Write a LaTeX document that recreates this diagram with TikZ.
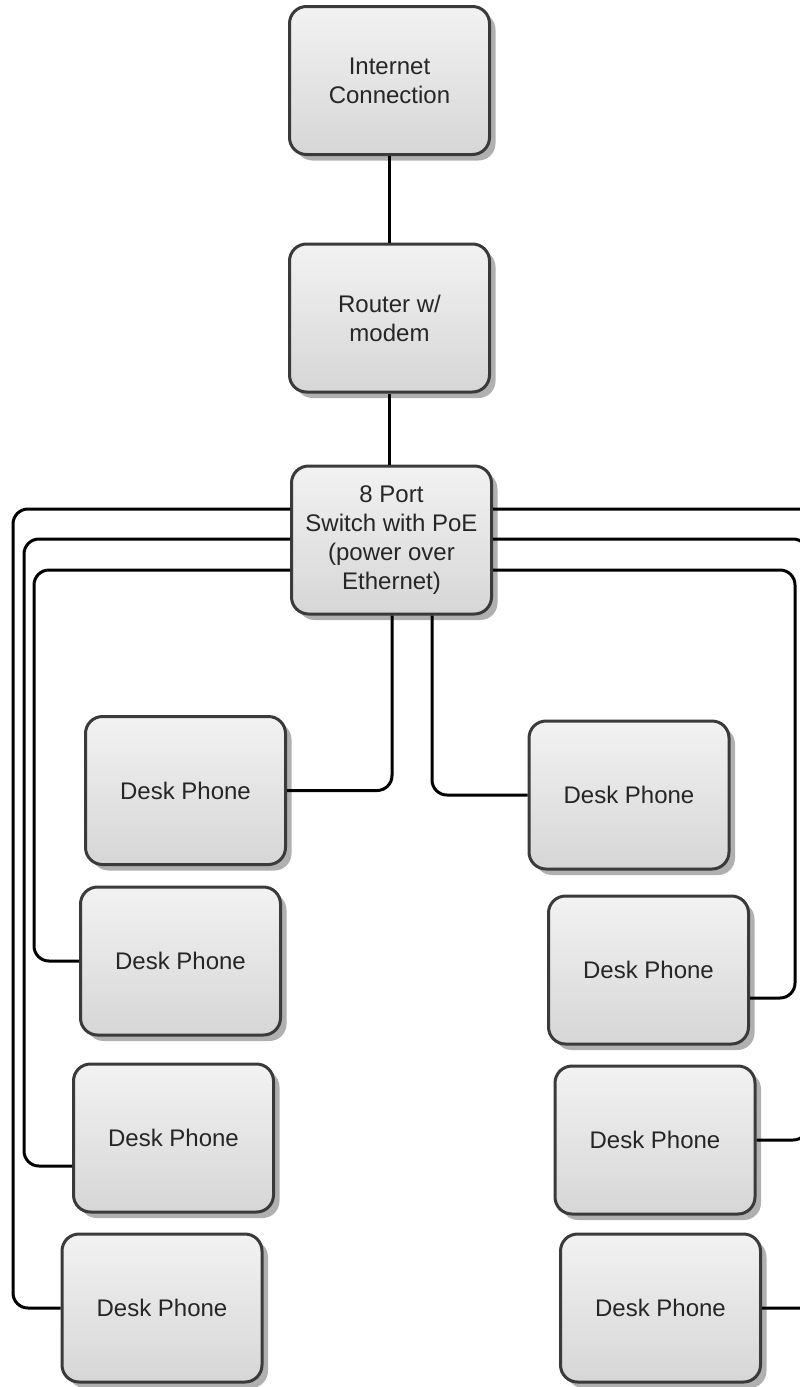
\documentclass[tikz,border=0pt]{standalone}
\usepackage{fontspec}
\setmainfont{Liberation Sans}
\usetikzlibrary{shadows}
\definecolor{boxtop}{HTML}{F2F2F2}
\definecolor{boxbot}{HTML}{D6D6D6}
\definecolor{boxline}{HTML}{3A3A3A}
\definecolor{shade}{HTML}{B0B0B0}
\tikzset{
  dev/.style={rectangle, rounded corners=17pt, draw=boxline, line width=3pt,
    top color=boxtop, bottom color=boxbot, minimum width=200pt, minimum height=148pt,
    align=center, font=\fontsize{24}{29}\selectfont, text=black!85, inner sep=0pt,
    drop shadow={shadow xshift=6pt, shadow yshift=-6pt, fill=shade, opacity=1}},
  conn/.style={line width=3pt, rounded corners=15pt, draw=black}
}
\begin{document}
\begin{tikzpicture}[x=1pt, y=-1pt]
\useasboundingbox (0,0) rectangle (800,1387);
\clip (0,0) rectangle (800,1387);
\node[dev] (inet) at (389.5,80.5) {Internet\\Connection};
\node[dev] (router) at (389.5,318) {Router w/\\modem};
\node[dev] (sw) at (391.5,540) {8 Port\\Switch with PoE\\(power over\\Ethernet)};
\node[dev] (L1) at (185.5,790.5) {Desk Phone};
\node[dev] (R1) at (629,795) {Desk Phone};
\node[dev] (L2) at (180.5,961) {Desk Phone};
\node[dev] (R2) at (648.5,970) {Desk Phone};
\node[dev] (L3) at (173.5,1138) {Desk Phone};
\node[dev] (R3) at (655,1140) {Desk Phone};
\node[dev] (L4) at (162,1308) {Desk Phone};
\node[dev] (R4) at (660.5,1308) {Desk Phone};

\draw[conn] (inet.south) -- (router.north);
\draw[conn] (router.south) -- (router.south |- sw.north);
% centre drops
\draw[conn] ([xshift=0.5pt]sw.south) |- (L1.east);
\draw[conn] ([xshift=40.5pt]sw.south) |- (R1.west);
% left side
\draw[conn] ([yshift=31pt]sw.west) -- (13,509) -- (13,1308) -- (L4.west);
\draw[conn] ([yshift=1pt]sw.west) -- (24,539) -- (24,1166) -- ([yshift=-28pt]L3.west);
\draw[conn] ([yshift=-30pt]sw.west) -- (34,570) -- (34,961) -- (L2.west);
% right side
\draw[conn] ([yshift=31pt]sw.east) -- (821,509) -- (821,1308) -- (R4.east);
\draw[conn] ([yshift=1pt]sw.east) -- (808,539) -- (808,1140) -- (R3.east);
\draw[conn] ([yshift=-30pt]sw.east) -- (795,570) -- (795,998) -- ([yshift=-28pt]R2.east);
\end{tikzpicture}
\end{document}
